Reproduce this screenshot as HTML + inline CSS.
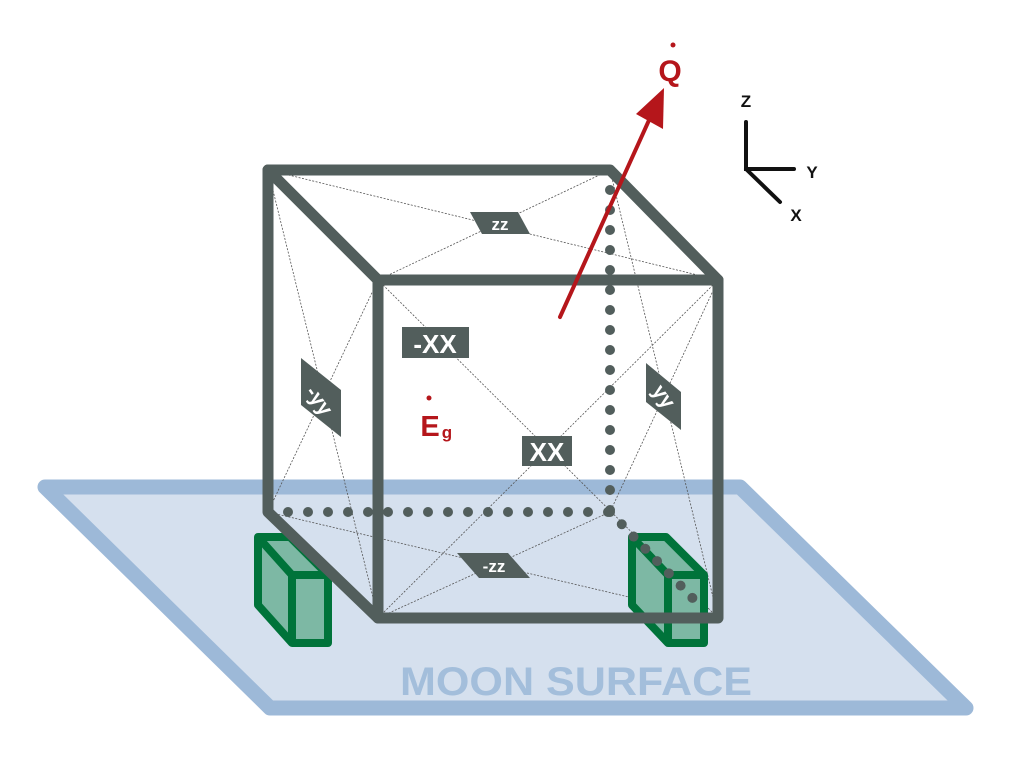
<!DOCTYPE html>
<html><head><meta charset="utf-8"><style>html,body{margin:0;padding:0;background:#fff}svg{display:block}</style></head>
<body>
<svg width="1023" height="772" viewBox="0 0 1023 772" xmlns="http://www.w3.org/2000/svg" font-family="Liberation Sans, sans-serif">
<polygon points="45,487 740,487 966,708 270,708" fill="#d5e0ee" stroke="#9db9d8" stroke-width="15" stroke-linejoin="round"/>
<text x="576" y="695" font-size="40" font-weight="bold" fill="#a3bedb" text-anchor="middle" textLength="352" lengthAdjust="spacingAndGlyphs">MOON SURFACE</text>

<g stroke="#555" stroke-width="0.8" stroke-dasharray="2,1.5" fill="none">
<line x1="268" y1="170" x2="718" y2="280"/><line x1="610" y1="170" x2="378" y2="280"/>
<line x1="378" y1="280" x2="718" y2="618"/><line x1="718" y1="280" x2="378" y2="618"/>
<line x1="268" y1="170" x2="378" y2="618"/><line x1="378" y1="280" x2="268" y2="512"/>
<line x1="610" y1="170" x2="718" y2="618"/><line x1="718" y1="280" x2="610" y2="512"/>
<line x1="268" y1="512" x2="718" y2="618"/><line x1="610" y1="512" x2="378" y2="618"/>
</g>

<g stroke="#525e5c" stroke-width="10" stroke-linecap="round" stroke-dasharray="0,20" fill="none">
<line x1="610" y1="190" x2="610" y2="512"/>
<line x1="288" y1="512" x2="610" y2="512"/>
</g>

<g stroke="#00733a" stroke-width="8" stroke-linejoin="round" fill="#7db8a4">
<polygon points="258,537 290,537 328,575 328,643 292,643 258,605"/>
<polyline points="258,537 292,575 328,575" fill="none"/>
<line x1="292" y1="575" x2="292" y2="643"/>
<polygon points="632,537 666,537 704,575 704,643 668,643 632,605"/>
<polyline points="632,537 668,575 704,575" fill="none"/>
<line x1="668" y1="575" x2="668" y2="643"/>
</g>
<line x1="610" y1="512" x2="704" y2="610" stroke="#525e5c" stroke-width="10" stroke-linecap="round" stroke-dasharray="0,17"/>

<g stroke="#525e5c" stroke-width="11" stroke-linejoin="round" stroke-linecap="round" fill="none">
<polyline points="378,280 268,170 610,170 718,280"/>
<polyline points="268,170 268,512 378,618"/>
<rect x="378" y="280" width="340" height="338"/>
</g>

<g fill="#525e5c">
<polygon points="470,212 518,212 530,234 482,234"/>
<rect x="402" y="327" width="67" height="31"/>
<rect x="522" y="436" width="50" height="30"/>
<polygon points="301,358 341,390 341,437 301,405"/>
<polygon points="646,363 681,392 681,430 646,402"/>
<polygon points="457,553 508,553 530,578 479,578"/>
</g>
<g fill="#fff" font-weight="bold" text-anchor="middle">
<text x="500" y="230" font-size="17">zz</text>
<text x="435" y="353" font-size="26">-XX</text>
<text x="547" y="461" font-size="26">XX</text>
<text x="320" y="408" font-size="21" transform="rotate(55 320 400)">-yy</text>
<text x="663" y="403" font-size="21" transform="rotate(55 663 397)">yy</text>
<text x="494" y="572" font-size="17">-zz</text>
</g>

<line x1="560" y1="317" x2="650" y2="118" stroke="#b5161b" stroke-width="4" stroke-linecap="round"/>
<polygon points="664,88 663,129 636,114" fill="#b5161b"/>
<text x="670" y="81" font-size="30" font-weight="bold" fill="#b5161b" text-anchor="middle">Q</text>
<circle cx="673" cy="45" r="2.5" fill="#b5161b"/>
<text x="430" y="436" font-size="29" font-weight="bold" fill="#b5161b" text-anchor="middle">E</text>
<text x="447" y="438" font-size="17" font-weight="bold" fill="#b5161b" text-anchor="middle">g</text>
<circle cx="429" cy="398" r="2.5" fill="#b5161b"/>

<g stroke="#111" stroke-width="4" stroke-linecap="round" fill="none">
<polyline points="746,122 746,169 794,169"/>
<line x1="746" y1="169" x2="780" y2="202"/>
</g>
<g font-weight="bold" font-size="17" fill="#111" text-anchor="middle">
<text x="746" y="107">Z</text>
<text x="812" y="178">Y</text>
<text x="796" y="221">X</text>
</g>
</svg>
</body></html>
